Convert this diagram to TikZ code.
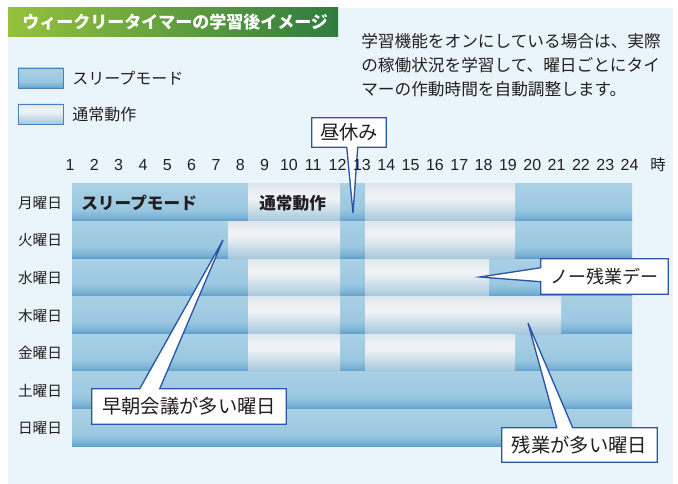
\documentclass[tikz,border=0pt]{standalone}
\usepackage{fontspec}
\setmainfont{Liberation Sans}
\newfontfamily\jp{Noto Sans CJK JP}
\usetikzlibrary{calc}
\definecolor{panel}{HTML}{EAF5FB}
\definecolor{txt}{HTML}{231F20}
\definecolor{cblue}{HTML}{2B55A5}
\definecolor{lgblue}{HTML}{4A80B8}
\definecolor{tgL}{HTML}{96C23C}
\definecolor{tgR}{HTML}{2E7C40}
\definecolor{sB}{HTML}{5A99C6}
\definecolor{sD}{HTML}{7BB3D6}
\definecolor{sM}{HTML}{9BC8E0}
\definecolor{sT}{HTML}{A9D0E5}
\definecolor{nB}{HTML}{A4C6DC}
\definecolor{nM}{HTML}{CFDFEA}
\definecolor{nW}{HTML}{EEF2F4}
\definecolor{nT}{HTML}{DDE7ED}
\pgfdeclareverticalshading{sleepshade}{100bp}{color(0bp)=(sB); color(25bp)=(sB); color(31bp)=(sD); color(42bp)=(sM); color(75bp)=(sT); color(100bp)=(sT)}
\pgfdeclareverticalshading{normshade}{100bp}{color(0bp)=(nB); color(25bp)=(nB); color(42bp)=(nM); color(55bp)=(nW); color(62bp)=(nW); color(75bp)=(nT); color(100bp)=(nT)}
\pgfdeclarelayer{back}
\pgfdeclarelayer{mid}
\pgfsetlayers{back,mid,main}
\tikzset{
  daylbl/.style={font=\jp\fontsize{11}{13}\selectfont, text=txt, inner sep=0pt},
  hourlbl/.style={font=\fontsize{12}{14}\selectfont, text=txt, inner sep=0pt},
  barlbl/.style={font=\jp\bfseries\fontsize{12.5}{15}\selectfont, text=txt, inner sep=0pt, anchor=west},
  legendlbl/.style={font=\jp\fontsize{12}{14}\selectfont, text=txt, inner sep=0pt, anchor=west},
  calltext/.style={font=\jp\fontsize{14.5}{16}\selectfont, text=txt, inner sep=0pt},
  callshape/.style={draw=cblue, fill=white, line width=1pt, line join=miter},
  legendbox/.style={draw=lgblue, line width=0.6pt},
}
\begin{document}
\begin{tikzpicture}[x=0.75pt,y=-0.75pt]
\useasboundingbox (0,0) rectangle (678,484);
\begin{pgfonlayer}{back}
\fill[white] (0,0) rectangle (678,484);
\fill[panel] (8,8) rectangle (673,484);
\shade[left color=tgL, right color=tgR] (8,8) rectangle (338,37);
% legend boxes
\shade[shading=sleepshade] (18,68) rectangle (63,88);
\draw[legendbox] (18,68) rectangle (63,88);
\shade[shading=normshade] (18,104) rectangle (63,124);
\draw[legendbox] (18,104) rectangle (63,124);
% bars
\foreach \i in {0,...,6}
  \shade[shading=sleepshade] (72,{184+\i*37.57}) rectangle (632,{184+(\i+1)*37.57});
\foreach \i/\a/\b in {0/248/340, 0/365/515, 1/228/340, 1/365/515, 2/248/340, 2/365/489, 3/248/340, 3/365/561, 4/248/340, 4/365/515}
  \shade[shading=normshade] (\a,{184+\i*37.57}) rectangle (\b,{184+(\i+1)*37.57});
\end{pgfonlayer}

% title
\node[font=\jp\bfseries\fontsize{12.75}{15}\selectfont, text=white, anchor=west, inner sep=0pt] (title) at (22,22) {ウィークリータイマーの学習後イメージ};
% description
\node[font=\jp\fontsize{12.5}{18}\selectfont, text=txt, align=left, anchor=west, inner sep=0pt] (desc) at (361,65)
  {学習機能をオンにしている場合は、実際\\の稼働状況を学習して、曜日ごとにタイ\\マーの作動時間を自動調整します。};
% legend
\node[legendlbl] (lgsleep) at (72,78) {スリープモード};
\node[legendlbl] (lgnorm) at (72,114) {通常動作};
% hours
\foreach \k in {1,...,24}
  \node[hourlbl] (h\k) at ({70+(\k-1)*24.33},165) {\k};
\node[hourlbl, font=\jp\fontsize{11.5}{14}\selectfont] (ji) at (658,165) {時};
% days
\foreach \d [count=\i from 0] in {月,火,水,木,金,土,日}
  \node[daylbl] (day\i) at (40,{184+(\i+0.5)*37.57}) {\d 曜日};
% bar labels
\node[barlbl] (barsleep) at (81,203) {スリープモード};
\node[barlbl] (barnorm) at (259,203) {通常動作};

% callouts
\coordinate (hiruTip) at (353,213);
\coordinate (nozTip) at (480,277);
\coordinate (socTip) at (223,240);
\coordinate (zanTip) at (528,323);
\node[calltext, minimum width=55.5pt, minimum height=21.75pt] (hiru) at (349,132.5) {昼休み};
\node[calltext, font=\jp\fontsize{13.5}{16}\selectfont, minimum width=95.25pt, minimum height=26.25pt] (noz) at (604.5,276.5) {ノー残業デー};
\node[calltext, minimum width=145.5pt, minimum height=26.25pt] (soc) at (189,406.5) {早朝会議が多い曜日};
\node[calltext, minimum width=116.25pt, minimum height=25.5pt] (zan) at (579.5,445) {残業が多い曜日};
\begin{pgfonlayer}{mid}
\path[callshape] (hiru.north west) -- (hiru.north east) -- (hiru.south east)
  -- ($(hiru.south west)+(46,0)$) -- (hiruTip) -- ($(hiru.south west)+(35,0)$) -- (hiru.south west) -- cycle;
\path[callshape] (noz.north west) -- (noz.north east) -- (noz.south east) -- (noz.south west)
  -- ($(noz.north west)+(0,23)$) -- (nozTip) -- ($(noz.north west)+(0,9)$) -- cycle;
\path[callshape] (soc.north west) -- ($(soc.north west)+(48,0)$) -- (socTip) -- ($(soc.north west)+(68,0)$)
  -- (soc.north east) -- (soc.south east) -- (soc.south west) -- cycle;
\path[callshape] (zan.north west) -- ($(zan.north west)+(55,0)$) -- (zanTip) -- ($(zan.north west)+(71,0)$)
  -- (zan.north east) -- (zan.south east) -- (zan.south west) -- cycle;
\end{pgfonlayer}
\end{tikzpicture}
\end{document}
